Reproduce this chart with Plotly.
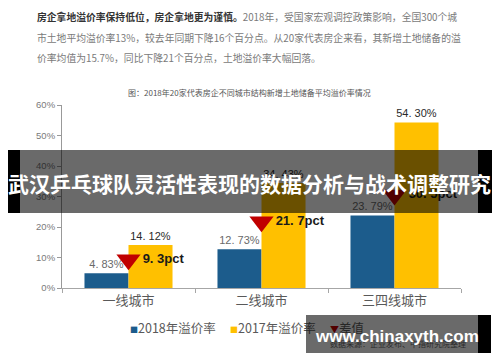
import plotly.graph_objects as go

# ---------------- data ----------------
categories = ["一线城市", "二线城市", "三四线城市"]
rate_2018 = [4.83, 12.73, 23.79]
rate_2017 = [14.12, 34.43, 54.30]
diff_pct = [9.3, 21.7, 30.5]
label_2018 = ["4. 83%", "12. 73%", "23. 79%"]
label_2017 = ["14. 12%", "34. 43%", "54. 30%"]
diff_labels = ["9. 3pct", "21. 7pct", "30. 5pct"]
y_tick_vals = [0, 10, 20, 30, 40, 50, 60]
y_tick_text = ["0%", "10%", "20%", "30%", "40%", "50%", "60%"]
series_names = ["2018年溢价率", "2017年溢价率", "差值"]

chart_title = "图：2018年20家代表房企不同城市结构新增土地储备平均溢价率情况"
para_bold = "房企拿地溢价率保持低位，房企拿地更为谨慎。"
para_line1 = "2018年，受国家宏观调控政策影响，全国300个城"
para_line2 = "市土地平均溢价率13%，较去年同期下降16个百分点。从20家代表房企来看，其新增土地储备的溢"
para_line3 = "价率均值为15.7%，同比下降21个百分点，土地溢价率大幅回落。"
banner_title = "武汉乒乓球队灵活性表现的数据分析与战术调整研究"
source_text = "数据来源：企业发布、中指研究院整理"
watermark = "www.chinaxyth.com"

# ---------------- style ----------------
BLUE = "#1C5C8C"
YELLOW = "#FFC000"
RED = "#C00000"
CJK = "Noto Sans CJK SC"
W, H = 500, 362
L, R, T, B = 62, 461, 105, 288


def fx(p):
    return (p - L) / (R - L)


def fy(p):
    return (B - p) / (B - T)


fig = go.Figure()
fig.add_trace(go.Bar(
    x=categories, y=rate_2018, name=series_names[0], marker_color=BLUE,
    marker_line_width=0,
    text=label_2018, textposition="outside", constraintext="none",
    textfont=dict(size=11, color="#6a6a6a", family="Liberation Sans"),
    cliponaxis=False, showlegend=False,
))
fig.add_trace(go.Bar(
    x=categories, y=rate_2017, name=series_names[1], marker_color=YELLOW,
    marker_line_width=0,
    text=label_2017, textposition="outside", constraintext="none",
    textfont=dict(size=11, color="#2a2a2a", family="Liberation Sans"),
    cliponaxis=False, showlegend=False,
))
fig.add_trace(go.Scatter(
    x=categories, y=diff_pct, name=series_names[2], mode="markers+text",
    marker=dict(symbol="triangle-down", size=21, color=RED, line_width=0),
    text=diff_labels, textposition="middle right",
    textfont=dict(size=13, color="#1a1a1a", family="Liberation Sans", weight="bold"),
    cliponaxis=False, showlegend=False,
))

ann = []
# paragraph text
ann.append(dict(x=fx(35), y=fy(17), xref="paper", yref="paper", xanchor="left", yanchor="middle",
                showarrow=False,
                text=f"<b><span style='color:#333333'>{para_bold}</span></b>{para_line1}",
                font=dict(family=CJK, size=9.8, color="#7a7a7a")))
ann.append(dict(x=fx(35), y=fy(38), xref="paper", yref="paper", xanchor="left", yanchor="middle",
                showarrow=False, text=para_line2,
                font=dict(family=CJK, size=9.8, color="#7a7a7a")))
ann.append(dict(x=fx(35), y=fy(58), xref="paper", yref="paper", xanchor="left", yanchor="middle",
                showarrow=False, text=para_line3,
                font=dict(family=CJK, size=9.8, color="#7a7a7a")))
# chart title
ann.append(dict(x=fx(249), y=fy(93), xref="paper", yref="paper", xanchor="center", yanchor="middle",
                showarrow=False, text=chart_title,
                font=dict(family=CJK, size=8, color="#555555")))
# legend
ann.append(dict(x=fx(128), y=fy(327), xref="paper", yref="paper", xanchor="left", yanchor="middle",
                showarrow=False,
                text=f"<span style='color:{BLUE};font-size:8px'>■</span>{series_names[0]}",
                font=dict(family=CJK, size=12.5, color="#595959")))
ann.append(dict(x=fx(228), y=fy(327), xref="paper", yref="paper", xanchor="left", yanchor="middle",
                showarrow=False,
                text=f"<span style='color:{YELLOW};font-size:8px'>■</span>{series_names[1][:-1]}"
                     f"<span style='color:#262626'>{series_names[1][-1]}</span>",
                font=dict(family=CJK, size=12.5, color="#595959")))
ann.append(dict(x=fx(328), y=fy(327), xref="paper", yref="paper", xanchor="left", yanchor="middle",
                showarrow=False,
                text=f"<span style='color:#520000;font-size:9px'>▼</span>{series_names[2]}",
                font=dict(family=CJK, size=12.5, color="#262626")))
# source
ann.append(dict(x=fx(328), y=fy(343), xref="paper", yref="paper", xanchor="left", yanchor="middle",
                showarrow=False, text=source_text,
                font=dict(family=CJK, size=8, color="#2a2a2a")))
# banner title
ann.append(dict(x=fx(249), y=fy(183), xref="paper", yref="paper", xanchor="center", yanchor="middle",
                showarrow=False, text=f"<b>{banner_title}</b>",
                font=dict(family=CJK, size=21, color="white")))
# watermark
ann.append(dict(x=fx(397), y=fy(336), xref="paper", yref="paper", xanchor="center", yanchor="middle",
                showarrow=False, text=f"<b>{watermark}</b>",
                font=dict(family="Liberation Sans", size=17, color="white")))

shapes = [
    dict(type="rect", xref="paper", yref="paper", x0=fx(20), x1=fx(478), y0=fy(213), y1=fy(150),
         fillcolor="rgba(0,0,0,0.585)", line_width=0, layer="above"),
    dict(type="rect", xref="paper", yref="paper", x0=fx(8), x1=fx(20), y0=fy(213), y1=fy(150),
         fillcolor="black", line_width=0, layer="above"),
    dict(type="rect", xref="paper", yref="paper", x0=fx(478), x1=fx(492), y0=fy(213), y1=fy(150),
         fillcolor="black", line_width=0, layer="above"),
    dict(type="rect", xref="paper", yref="paper", x0=fx(306), x1=fx(478), y0=fy(353), y1=fy(315),
         fillcolor="rgba(0,0,0,0.585)", line_width=0, layer="above"),
    dict(type="rect", xref="paper", yref="paper", x0=fx(478), x1=fx(491), y0=fy(353), y1=fy(315),
         fillcolor="black", line_width=0, layer="above"),
]

fig.update_layout(
    width=W, height=H,
    margin=dict(l=L, r=W - R, t=T, b=H - B, pad=0),
    paper_bgcolor="white", plot_bgcolor="white",
    barmode="group", bargap=0.338, bargroupgap=0,
    annotations=ann, shapes=shapes,
    xaxis=dict(type="category", range=[-0.5, 2.5], showline=True, linecolor="#a6a6a6", linewidth=1,
               ticks="outside", tickson="boundaries", ticklen=4, tickcolor="#a6a6a6",
               tickfont=dict(family=CJK, size=13, color="#595959"), showgrid=False),
    yaxis=dict(range=[0, 60], tickvals=y_tick_vals, ticktext=y_tick_text, showline=True,
               linecolor="#999999", linewidth=1, ticks="outside", ticklen=4, tickcolor="#999999",
               tickfont=dict(family="Liberation Sans", size=9.5, color="#7a7a7a"),
               showgrid=False, zeroline=False),
)

fig.write_html("out.html", config={"displayModeBar": False},
               post_script="document.body.style.margin='0px';document.body.style.overflow='hidden';")
